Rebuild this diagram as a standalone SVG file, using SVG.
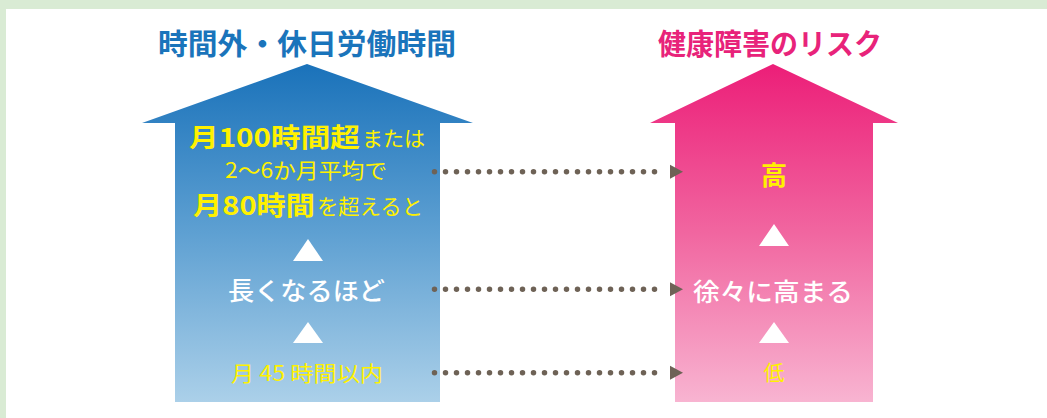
<svg xmlns="http://www.w3.org/2000/svg" width="1047" height="418" viewBox="0 0 1047 418">
<defs>
<linearGradient id="gBlue" gradientUnits="userSpaceOnUse" x1="0" y1="64" x2="0" y2="402">
<stop offset="0" stop-color="#1a72ba"/>
<stop offset="0.5" stop-color="#5ea0d2"/>
<stop offset="1" stop-color="#abd0e9"/>
</linearGradient>
<linearGradient id="gPink" gradientUnits="userSpaceOnUse" x1="0" y1="64" x2="0" y2="402">
<stop offset="0" stop-color="#ec1e78"/>
<stop offset="0.5" stop-color="#f166a0"/>
<stop offset="1" stop-color="#f8b4d1"/>
</linearGradient>
<style>
text{font-family:"Noto Sans CJK JP","Noto Sans CJK SC",sans-serif;}
.title{font-weight:700;font-size:29px;}
.yb{fill:#fff100;font-weight:700;font-size:26px;}
.yr{fill:#fff100;font-weight:400;font-size:21px;}
.wr{fill:#ffffff;font-weight:500;font-size:25px;}
.tri{fill:#ffffff;}
.dots{stroke:#6e6256;stroke-width:5.5;stroke-linecap:round;stroke-dasharray:0 11;fill:none;}
.head{fill:#6e6256;}
</style>
</defs>
<rect x="0" y="0" width="1047" height="418" fill="#d9ebd4"/>
<rect x="6" y="9" width="1041" height="409" fill="#ffffff"/>

<g id="left-node">
<text class="title" x="158" y="55" fill="#1a74bb" textLength="298" lengthAdjust="spacingAndGlyphs">時間外・休日労働時間</text>
<polygon points="307,64 473,123 440,123 440,402 175,402 175,123 142,123" fill="url(#gBlue)"/>
<text class="yb" x="189" y="147" textLength="171" lengthAdjust="spacingAndGlyphs">月100時間超</text>
<text class="yr" x="362" y="146" textLength="63" lengthAdjust="spacingAndGlyphs">または</text>
<text class="yr" x="225" y="178" textLength="162" lengthAdjust="spacingAndGlyphs">2〜6か月平均で</text>
<text class="yb" x="193" y="215" textLength="122" lengthAdjust="spacingAndGlyphs">月80時間</text>
<text class="yr" x="317" y="214" textLength="106" lengthAdjust="spacingAndGlyphs">を超えると</text>
<polygon class="tri" points="308,239 323,261 293,261"/>
<text class="wr" x="228" y="300" textLength="157" lengthAdjust="spacingAndGlyphs">長くなるほど</text>
<polygon class="tri" points="308,322 323,343 293,343"/>
<text class="yr" x="231" y="381" textLength="152" lengthAdjust="spacingAndGlyphs">月 45 時間以内</text>
</g>

<g id="right-node">
<text class="title" x="658" y="55" fill="#e8237a" font-size="28" textLength="224" lengthAdjust="spacingAndGlyphs">健康障害のリスク</text>
<polygon points="773,64 898,123 873,123 873,402 675,402 675,123 650,123" fill="url(#gPink)"/>
<text class="yb" x="774" y="185" text-anchor="middle" font-size="27">高</text>
<polygon class="tri" points="774,224 789,246 759,246"/>
<text class="wr" x="693" y="301" textLength="160" lengthAdjust="spacingAndGlyphs" font-size="26">徐々に高まる</text>
<polygon class="tri" points="774,322 789,343 759,343"/>
<text class="yr" x="774" y="380" text-anchor="middle" font-size="22">低</text>
</g>

<g id="connectors">
<line class="dots" x1="434.5" y1="171.7" x2="665.5" y2="171.7"/>
<polygon class="head" points="670,164.7 683,171.7 670,178.7"/>
<line class="dots" x1="434.5" y1="289.3" x2="665.5" y2="289.3"/>
<polygon class="head" points="670,282.3 683,289.3 670,296.3"/>
<line class="dots" x1="434.5" y1="372.7" x2="665.5" y2="372.7"/>
<polygon class="head" points="670,365.7 683,372.7 670,379.7"/>
</g>
</svg>
